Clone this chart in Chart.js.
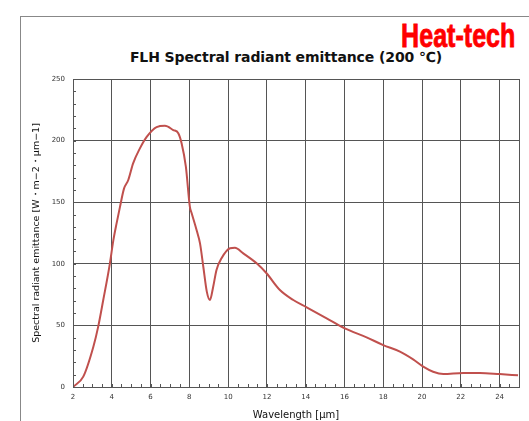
<!DOCTYPE html>
<html>
<head>
<meta charset="utf-8">
<script src="https://cdn.jsdelivr.net/npm/chart.js@4/dist/chart.umd.min.js"></script>
<style>
  body { margin: 0; background: #fff; }
  #wrap { position: relative; width: 529px; height: 421px; overflow: hidden; }
  #frame { position: absolute; left: 20px; top: 16px; right: -5px; bottom: -5px;
           border-left: 1px solid #888; border-top: 1px solid #888; }
  #brand { position: absolute; right: 14px; top: 17px; color: #f00;
           font: bold 33px "Liberation Sans", sans-serif;
           transform: scaleX(0.76); transform-origin: right top;
           -webkit-text-stroke: 0.8px #f00; }
  #title { position: absolute; left: 60px; width: 452px; top: 49px; text-align: center;
           font: bold 14px "DejaVu Sans", sans-serif; color: #111; letter-spacing: -0.1px; }
  canvas { position: absolute; left: 0; top: 0; }
</style>
</head>
<body>
<div id="wrap">
  <div id="frame"></div>
  <div id="brand">Heat-tech</div>
  <div id="title">FLH Spectral radiant emittance (200 ℃)</div>
  <canvas id="chart" width="529" height="421"></canvas>
</div>
<script>
// wavelength in µm
const wavelength = [2, 2.53, 3.05, 3.3, 3.56, 3.9, 4.08, 4.25, 4.42, 4.63, 4.85, 5.1, 5.45, 5.8,
  6.31, 6.74, 7.17, 7.43, 7.6, 7.82, 8.03, 8.12, 8.38, 8.55, 8.72, 8.9, 9.06, 9.23, 9.4, 9.66,
  10.1, 10.35, 10.78, 11.47, 11.98, 12.67, 13.36, 14.05, 15.08, 16.02, 17.14, 18, 18.86, 19.54,
  20.06, 20.57, 21.1, 22.12, 22.98, 24, 24.95];
// spectral radiant emittance
const emittance = [0, 8.4, 32.7, 49, 70.6, 100, 119, 133, 146, 161, 168, 181.5, 193.7, 203,
  211, 212, 208.6, 206, 197.8, 178.8, 146, 141, 127, 116.6, 97.6, 77.4, 70.6, 81.4, 95, 104.5,
  112.6, 113, 108.5, 100.4, 92.3, 78.7, 70.6, 64.7, 55.8, 47.6, 40.3, 34, 28.7, 22.4,
  16.5, 12.4, 10.5, 11.4, 11.4, 10.5, 9.5];
const xTicks = [2, 4, 6, 8, 10, 12, 14, 16, 18, 20, 22, 24];
const yTicks = [0, 50, 100, 150, 200, 250];

const points = wavelength.map((w, i) => ({ x: w, y: emittance[i] }));

// small inside ticks: every 0.5 µm on x, every 10 on y
const minorTicks = {
  id: "minorTicks",
  afterDatasetsDraw(chart) {
    const ctx = chart.ctx;
    const xs = chart.scales.x, ys = chart.scales.y;
    const a = chart.chartArea;
    ctx.save();
    ctx.strokeStyle = "#555";
    ctx.lineWidth = 1;
    ctx.beginPath();
    for (let v = 2; v <= 25; v += 0.5) {
      const px = Math.round(xs.getPixelForValue(v)) + 0.5;
      ctx.moveTo(px, a.bottom);
      ctx.lineTo(px, a.bottom - 3);
    }
    for (let v = 0; v <= 250; v += 10) {
      const py = Math.round(ys.getPixelForValue(v)) + 0.5;
      ctx.moveTo(a.left, py);
      ctx.lineTo(a.left + 3, py);
    }
    ctx.stroke();
    ctx.restore();
  }
};

new Chart(document.getElementById("chart"), {
  type: "scatter",
  data: {
    datasets: [{
      data: points,
      showLine: true,
      borderColor: "#c0504d",
      borderWidth: 2,
      pointRadius: 0,
      cubicInterpolationMode: "monotone"
    }]
  },
  options: {
    responsive: false,
    animation: false,
    devicePixelRatio: 1,
    layout: { padding: { top: 79, right: 10, left: 31, bottom: 0 } },
    plugins: { legend: { display: false }, tooltip: { enabled: false } },
    scales: {
      x: {
        type: "linear",
        min: 2,
        max: 25,
        afterBuildTicks: (s) => { s.ticks = xTicks.concat([25]).map(v => ({ value: v })); },
        afterFit: (s) => { s.height = 34; },
        ticks: {
          callback: (v) => (xTicks.includes(v) ? v : ""),
          maxRotation: 0,
          autoSkip: false,
          padding: 6,
          color: "#333",
          font: { family: "DejaVu Sans", size: 7 }
        },
        grid: { color: "#555", drawTicks: false },
        border: { color: "#555" },
        title: {
          display: true,
          text: "Wavelength [μm]",
          color: "#111",
          padding: { top: 1, bottom: 0 },
          font: { family: "DejaVu Sans", size: 10 }
        }
      },
      y: {
        min: 0,
        max: 250,
        afterBuildTicks: (s) => { s.ticks = yTicks.map(v => ({ value: v })); },
        afterFit: (s) => { s.width = 42; },
        ticks: {
          padding: 8,
          color: "#333",
          font: { family: "DejaVu Sans", size: 7 }
        },
        grid: { color: "#555", drawTicks: false },
        border: { color: "#555" },
        title: {
          display: true,
          text: "Spectral radiant emittance [W・m−2・μm−1]",
          color: "#111",
          padding: { top: 0, bottom: 10 },
          font: { family: "DejaVu Sans", size: 9.5 }
        }
      }
    }
  },
  plugins: [minorTicks]
});
</script>
</body>
</html>
